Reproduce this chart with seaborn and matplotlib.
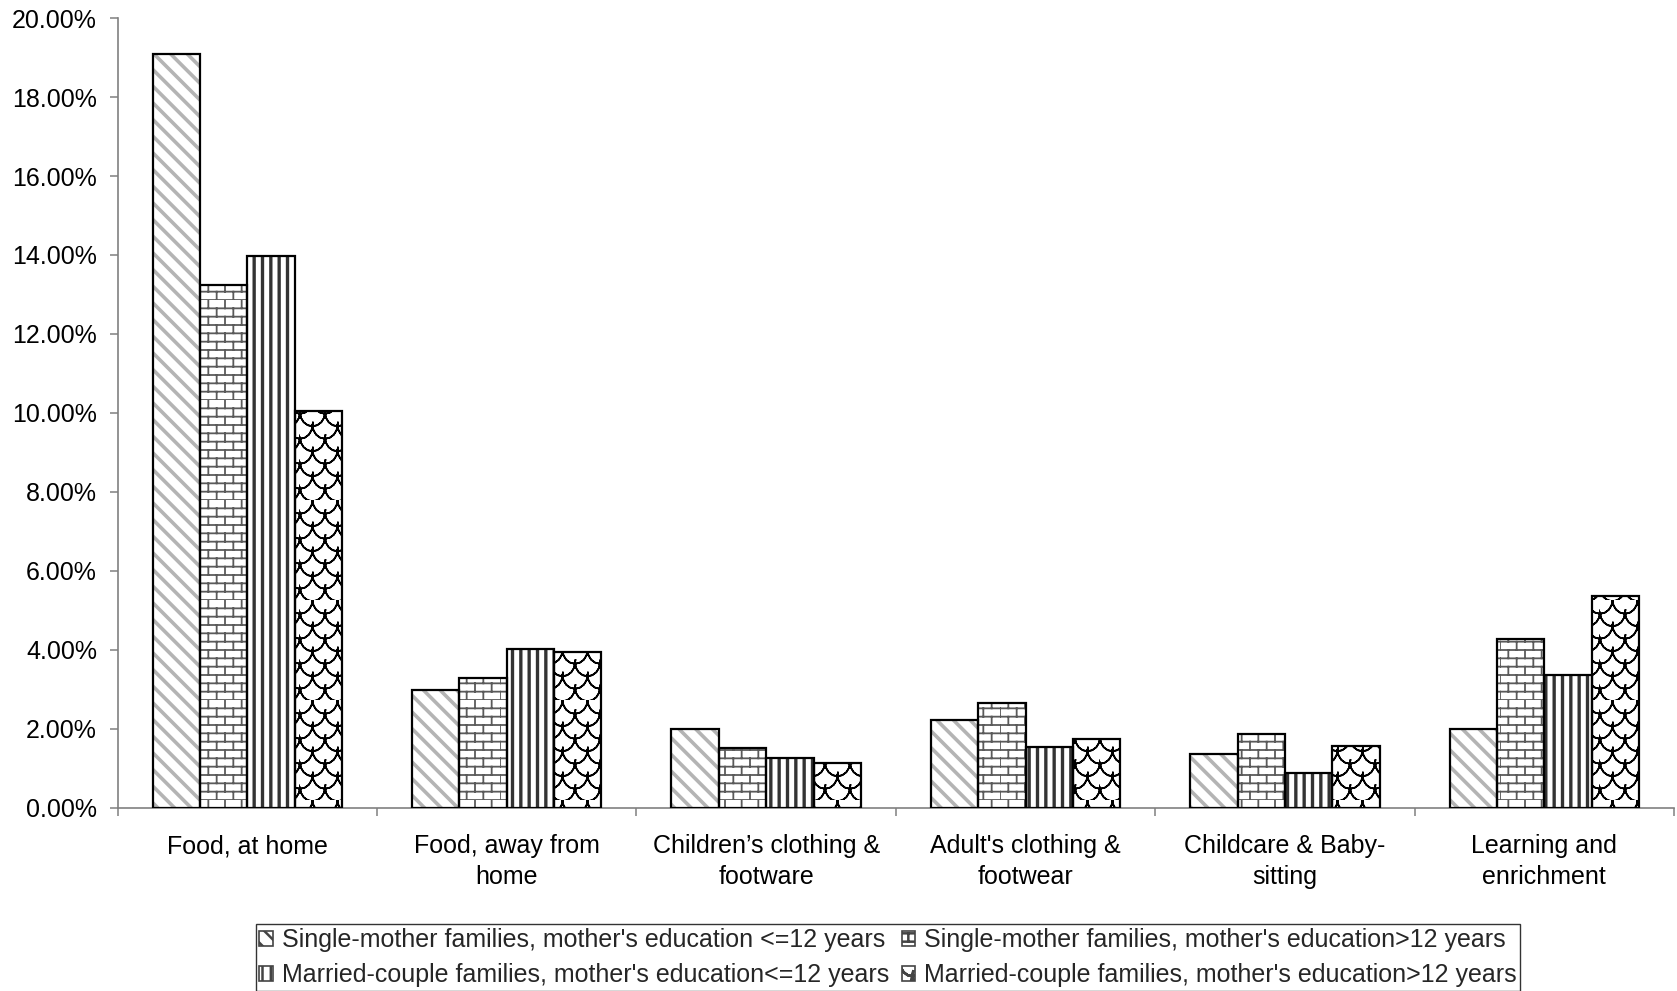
import pandas as pd
import numpy as np
import seaborn as sns
import matplotlib.pyplot as plt
from matplotlib import hatch as mhatch
from matplotlib.path import Path
from matplotlib.patches import Rectangle
from matplotlib.ticker import FuncFormatter, MultipleLocator

# 数据
categories = ["Food, at home", "Food, away from\nhome", "Children\u2019s clothing &\nfootware",
              "Adult's clothing &\nfootwear", "Childcare & Baby-\nsitting", "Learning and\nenrichment"]
series = ["Single-mother families, mother's education <=12 years",
          "Single-mother families, mother's education>12 years",
          "Married-couple families, mother's education<=12 years",
          "Married-couple families, mother's education>12 years"]
single_low = [19.10, 2.98, 2.00, 2.22, 1.37, 2.00]
single_high = [13.25, 3.28, 1.52, 2.65, 1.87, 4.27]
married_low = [13.97, 4.02, 1.27, 1.54, 0.88, 3.37]
married_high = [10.05, 3.94, 1.13, 1.75, 1.55, 5.35]

df = pd.DataFrame({
    'category': categories * 4,
    'series': [s for s in series for _ in categories],
    'value': single_low + single_high + married_low + married_high,
})


# 自定义填充图案：'o' -> 砖块, 'O' -> 鱼鳞
class BrickHatch(mhatch.HatchPatternBase):
    rows, cols = 12, 6

    def __init__(self, hatch, density):
        self.on = 'o' in hatch
        self.num_vertices = (self.rows * 2 + self.rows * self.cols * 2) if self.on else 0

    def set_vertices_and_codes(self, vertices, codes):
        h, w = 1.0 / self.rows, 1.0 / self.cols
        v = []
        for k in range(self.rows):
            y = k * h
            v += [(0.0, y), (1.0, y)]
        for k in range(self.rows):
            off = (k % 2) * w / 2
            for j in range(self.cols):
                x = j * w + off
                v += [(x, k * h), (x, (k + 1) * h)]
        vertices[:] = v
        codes[0::2] = Path.MOVETO
        codes[1::2] = Path.LINETO


class ScaleHatch(mhatch.HatchPatternBase):
    rows, cols, npts = 8, 4, 9

    def __init__(self, hatch, density):
        self.on = 'O' in hatch
        n_arcs = (self.rows // 2) * (self.cols + 1) + (self.rows // 2) * self.cols
        self.num_vertices = n_arcs * (2 * self.npts - 1) if self.on else 0

    def set_vertices_and_codes(self, vertices, codes):
        h, w = 1.0 / self.rows, 1.0 / self.cols
        t = np.linspace(np.pi, 2 * np.pi, self.npts)
        t = np.concatenate([t, t[-2::-1]])  # 来回描一遍，面积为零，不会被填充
        v, c = [], []
        for k in range(1, self.rows + 1):
            y = k * h
            if k % 2 == 0:
                centers = [j * w for j in range(self.cols + 1)]
            else:
                centers = [j * w + w / 2 for j in range(self.cols)]
            for cx in centers:
                v += list(zip(cx + (w / 2) * np.cos(t), y + 1.1 * h * np.sin(t)))
                c += [Path.MOVETO] + [Path.LINETO] * (len(t) - 1)
        vertices[:] = v
        codes[:] = c


mhatch._hatch_types[:] = [mhatch.HorizontalHatch, mhatch.VerticalHatch,
                          mhatch.NorthEastHatch, mhatch.SouthEastHatch,
                          BrickHatch, ScaleHatch]

sns.set_style('white')
plt.rcParams['font.family'] = ['Liberation Sans', 'DejaVu Sans']
plt.rcParams['hatch.linewidth'] = 1.8

fig = plt.figure(figsize=(16.77, 9.91), dpi=100)
ax = fig.add_axes([0.0702, 0.185, 0.928, 0.7967])

sns.barplot(data=df, x='category', y='value', hue='series', order=categories,
            hue_order=series, width=0.73, palette=['white'] * 4,
            saturation=1, ax=ax, legend=False)

hatches = ['\\\\', 'o', '||', 'O']
hatch_colors = ['#b4b4b4', '#5a5a5a', '#333333', '#000000']
hatch_lw = [2.6, 1.3, 2.4, 1.2]
n = len(categories)
handles = []
for i, s in enumerate(series):
    bars = ax.patches[i * n:(i + 1) * n]
    for p in bars:
        p.set_hatch(hatches[i])
        p.set_edgecolor(hatch_colors[i])
        p.set_linewidth(0)
        if hasattr(p, 'set_hatch_linewidth'):
            p.set_hatch_linewidth(hatch_lw[i])
        elif hasattr(p, '_hatch_linewidth'):
            p._hatch_linewidth = hatch_lw[i]
        ax.add_patch(Rectangle(p.get_xy(), p.get_width(), p.get_height(),
                               fill=False, edgecolor='black', linewidth=1.6, zorder=3))
    hnd = Rectangle((0, 0), 1, 1, facecolor='white', edgecolor='#444444',
                    hatch=hatches[i], linewidth=1.2)
    handles.append(hnd)

ax.set_ylim(0, 20)
ax.set_xlim(-0.5, n - 0.5)
ax.yaxis.set_major_locator(MultipleLocator(2))
ax.yaxis.set_major_formatter(FuncFormatter(lambda v, _: '%.2f%%' % v))
ax.set_xlabel('')
ax.set_ylabel('')

for side in ['top', 'right']:
    ax.spines[side].set_visible(False)
for side in ['left', 'bottom']:
    ax.spines[side].set_color('#808080')
    ax.spines[side].set_linewidth(1.2)

ax.tick_params(axis='y', direction='out', length=6, width=1.1, color='#808080',
               labelsize=18, pad=9, left=True, labelcolor='black')
ax.tick_params(axis='x', which='major', length=0, labelsize=18, pad=19, labelcolor='black')
for lbl in ax.get_xticklabels():
    lbl.set_linespacing(1.35)
ax.set_xticks(np.arange(n + 1) - 0.5, minor=True)
ax.tick_params(axis='x', which='minor', direction='out', length=5.5, width=1.1,
               color='#808080', bottom=True)

order = [0, 2, 1, 3]
leg = fig.legend([handles[k] for k in order], [series[k] for k in order],
                 ncol=2, loc='lower center', bbox_to_anchor=(888 / 1677, 0.0),
                 frameon=True, fontsize=18, handlelength=0.55, handleheight=0.55,
                 handletextpad=0.35, columnspacing=0.5, borderpad=0.15,
                 labelspacing=0.45, fancybox=False, edgecolor='black',
                 borderaxespad=0)
leg.get_frame().set_linewidth(1.0)

fig.savefig('out.png', dpi=100)
